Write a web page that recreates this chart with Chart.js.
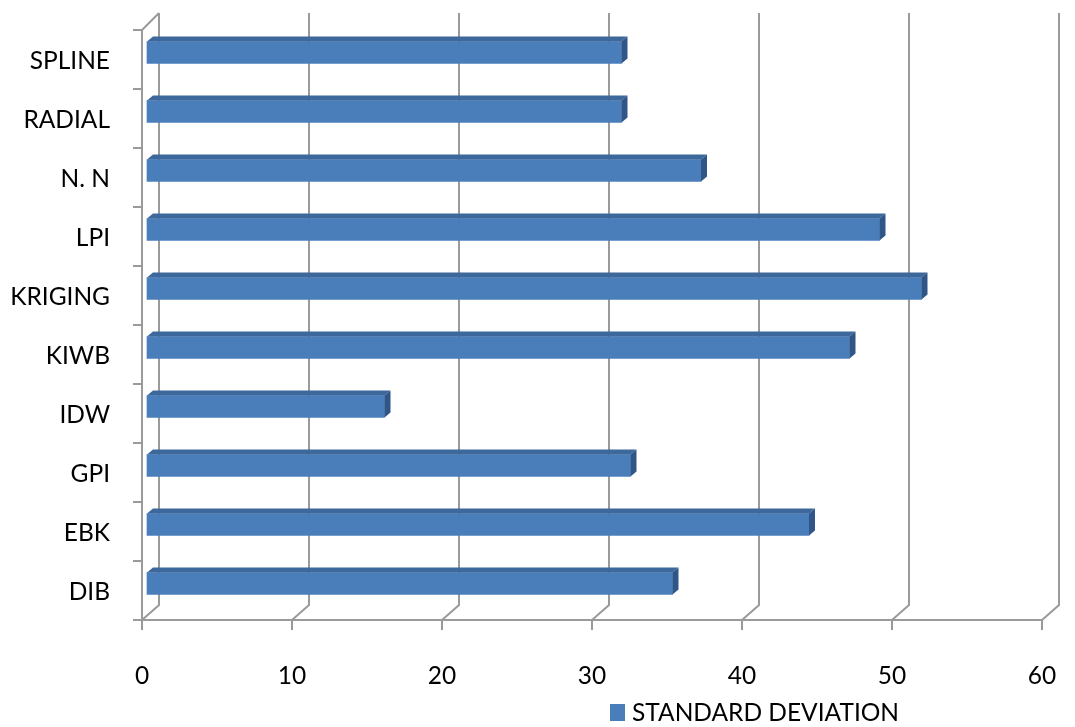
<!DOCTYPE html>
<html><head><meta charset="utf-8">
<script src="https://cdn.jsdelivr.net/npm/chart.js@4.4.0/dist/chart.umd.min.js"></script>
<style>html,body{margin:0;padding:0;background:#fff}</style>
</head><body>
<canvas id="c" width="1075" height="727"></canvas>
<script>
const categories = ['SPLINE', 'RADIAL', 'N. N', 'LPI', 'KRIGING', 'KIWB', 'IDW', 'GPI', 'EBK', 'DIB'];
const stdDev = [31.7, 31.7, 37.0, 48.9, 51.7, 46.9, 15.9, 32.3, 44.2, 35.1];
const seriesName = 'STANDARD DEVIATION';
const xTicks = [0, 10, 20, 30, 40, 50, 60];

const FONT = 'Lato, "Open Sans", sans-serif';
const GRID = '#9a9a9a';
const FRONT = '#4a7ebb';
const TOP = '#3d689c';
const SIDE = '#2f5686';
const SHIFT = {x: 4, y: -7};
const DEPTH = {x: 6, y: -5};
const WALL = {x: 17, y: -15, top: -17};

const depth3d = {
  id: 'depth3d',
  beforeDatasetsDraw(chart) {
    const ctx = chart.ctx, xs = chart.scales.x, a = chart.chartArea;
    ctx.save();
    ctx.strokeStyle = GRID; ctx.lineWidth = 2;
    xTicks.forEach(v => {
      const px = xs.getPixelForValue(v);
      ctx.beginPath();
      ctx.moveTo(px, a.bottom);
      ctx.lineTo(px + WALL.x, a.bottom + WALL.y);
      ctx.lineTo(px + WALL.x, a.top + WALL.top);
      ctx.stroke();
    });
    ctx.beginPath();
    ctx.moveTo(a.left, a.top);
    ctx.lineTo(a.left + WALL.x, a.top + WALL.top);
    ctx.stroke();
    ctx.restore();
    ctx.save();
    ctx.translate(SHIFT.x, SHIFT.y);
  },
  afterDatasetsDraw(chart) {
    const ctx = chart.ctx;
    chart.getDatasetMeta(0).data.forEach(el => {
      const p = el.getProps(['x', 'y', 'base', 'height'], true);
      const t = p.y - p.height / 2, b = p.y + p.height / 2;
      ctx.fillStyle = TOP;
      ctx.beginPath();
      ctx.moveTo(p.base, t);
      ctx.lineTo(p.base + DEPTH.x, t + DEPTH.y);
      ctx.lineTo(p.x + DEPTH.x, t + DEPTH.y);
      ctx.lineTo(p.x, t);
      ctx.closePath(); ctx.fill();
      ctx.fillStyle = SIDE;
      ctx.beginPath();
      ctx.moveTo(p.x, t);
      ctx.lineTo(p.x + DEPTH.x, t + DEPTH.y);
      ctx.lineTo(p.x + DEPTH.x, b + DEPTH.y);
      ctx.lineTo(p.x, b);
      ctx.closePath(); ctx.fill();
    });
    ctx.restore();
  },
  afterDraw(chart) {
    const ctx = chart.ctx, ds = chart.data.datasets[0];
    ctx.save();
    ctx.fillStyle = ds.backgroundColor;
    ctx.fillRect(610, 704, 15, 17);
    ctx.fillStyle = '#000';
    ctx.font = '24.5px ' + FONT;
    ctx.textBaseline = 'middle';
    ctx.textAlign = 'left';
    ctx.fillText(ds.label, 632, 713);
    ctx.restore();
  }
};

new Chart(document.getElementById('c'), {
  type: 'bar',
  data: {
    labels: categories,
    datasets: [{label: seriesName, data: stdDev, backgroundColor: FRONT, borderWidth: 0, barThickness: 22}]
  },
  options: {
    indexAxis: 'y',
    responsive: false,
    devicePixelRatio: 1,
    animation: false,
    layout: {padding: {top: 30, right: 33, left: 0, bottom: 0}},
    plugins: {legend: {display: false}, tooltip: {enabled: false}},
    scales: {
      x: {
        type: 'linear', min: 0, max: 60,
        afterBuildTicks: s => { s.ticks = xTicks.map(v => ({value: v})); },
        afterFit: s => { s.height = 107; s.paddingLeft = 0; s.paddingRight = 0; },
        ticks: {color: '#000', font: {family: FONT, size: 24.5}, padding: 31, maxRotation: 0},
        grid: {drawOnChartArea: false, drawTicks: true, tickLength: 10, color: GRID, lineWidth: 2},
        border: {display: true, color: GRID, width: 2}
      },
      y: {
        type: 'category',
        afterFit: s => { s.width = 142; s.paddingTop = 0; s.paddingBottom = 0; },
        ticks: {color: '#000', font: {family: FONT, size: 24.5}, padding: 23, labelOffset: 2},
        grid: {offset: true, drawOnChartArea: false, drawTicks: true, tickLength: 9, color: GRID, lineWidth: 2},
        border: {display: true, color: GRID, width: 2}
      }
    }
  },
  plugins: [depth3d]
});
</script>
</body></html>
